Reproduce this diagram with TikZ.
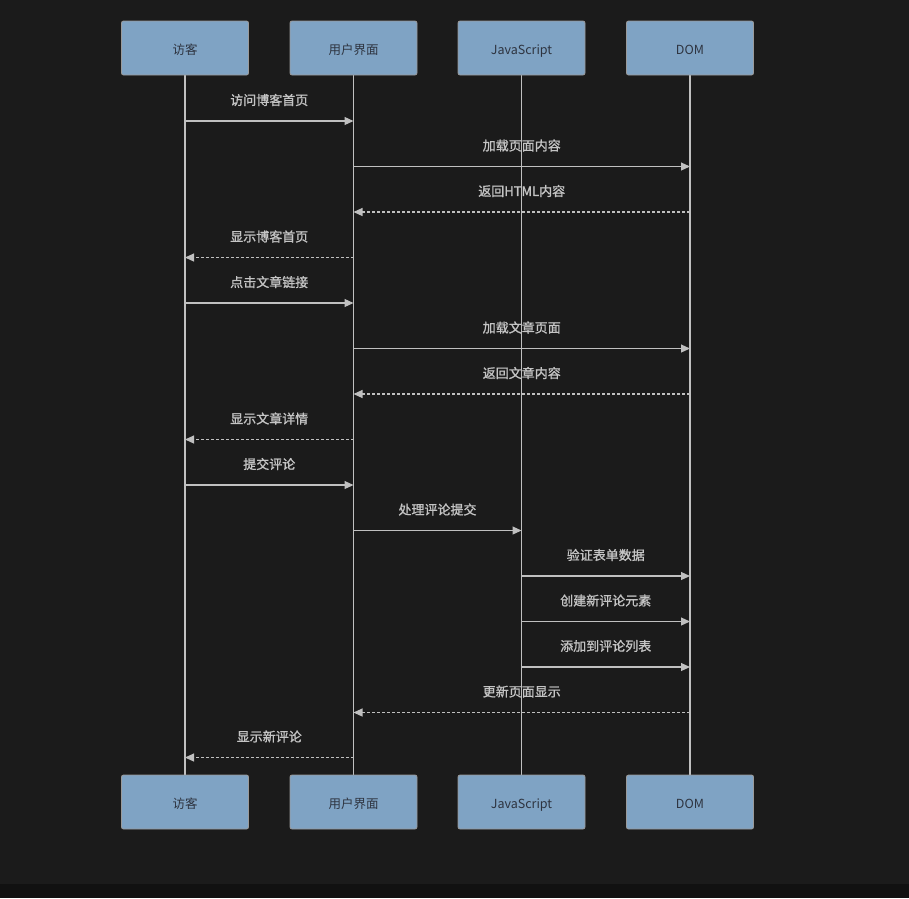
\documentclass[tikz,border=0pt]{standalone}
\usepackage{fontspec}
\setmainfont{Noto Sans CJK SC}
\newfontfamily\cjkb{Noto Sans CJK SC}[FakeBold=1.2]
\usetikzlibrary{arrows.meta,calc}
\definecolor{bgc}{HTML}{1B1B1B}
\definecolor{stripc}{HTML}{111111}
\definecolor{boxc}{HTML}{7FA3C4}
\definecolor{boxline}{HTML}{9A9A9A}
\definecolor{boxtext}{HTML}{2E3440}
\definecolor{linec}{HTML}{C0C0C0}
\definecolor{labc}{HTML}{C4C4C4}
\tikzset{
  actor/.style={draw=boxline, line width=0.8pt, fill=boxc, rounded corners=2pt,
    minimum width=127pt, minimum height=54pt, inner sep=0pt,
    text height=13pt, text depth=0pt,
    font=\fontsize{12.5}{14}\selectfont, text=boxtext},
  life/.style={draw=linec, line width=1.1pt},
  msg/.style={draw=linec, line width=1.1pt, -{Triangle[length=9pt,width=8pt]}},
  ret/.style={msg, dash pattern=on 3pt off 2pt},
  lab/.style={font=\fontsize{13}{15}\selectfont, text=labc, inner sep=0pt}
}
\begin{document}
\begin{tikzpicture}[x=1pt,y=-1pt]
\fill[bgc] (0,0) rectangle (909,898);
\fill[stripc] (0,884) rectangle (909,898);
\useasboundingbox (0,0) rectangle (909,898);
\foreach \n/\x in {a/185,b/353.5,c/521.5,d/690}{
  \coordinate (\n top) at (\x,75);
  \coordinate (\n bot) at (\x,775);
}
\draw[life] (atop) -- (abot);
\draw[life] (btop) -- (bbot);
\draw[life] (ctop) -- (cbot);
\draw[life] (dtop) -- (dbot);
\node[actor] (A1) at (185,48) {访客};
\node[actor] (B1) at (353.5,48) {用户界面};
\node[actor] (C1) at (521.5,48) {JavaScript};
\node[actor] (D1) at (690,48) {DOM};
\node[actor] (A2) at (185,802) {访客};
\node[actor] (B2) at (353.5,802) {用户界面};
\node[actor] (C2) at (521.5,802) {JavaScript};
\node[actor] (D2) at (690,802) {DOM};
\def\ax{185}\def\bx{353.5}\def\cx{521.5}\def\dx{690}
\foreach \f/\t/\y/\s/\l [count=\i] in {
 \ax/\bx/121/msg/访问博客首页,
 \bx/\dx/166.5/msg/加载页面内容,
 \dx/\bx/212/ret/返回HTML内容,
 \bx/\ax/257.5/ret/显示博客首页,
 \ax/\bx/303/msg/点击文章链接,
 \bx/\dx/348.5/msg/加载文章页面,
 \dx/\bx/394/ret/返回文章内容,
 \bx/\ax/439.5/ret/显示文章详情,
 \ax/\bx/485/msg/提交评论,
 \bx/\cx/530.5/msg/处理评论提交,
 \cx/\dx/576/msg/验证表单数据,
 \cx/\dx/621.5/msg/创建新评论元素,
 \cx/\dx/667/msg/添加到评论列表,
 \dx/\bx/712.5/ret/更新页面显示,
 \bx/\ax/757.5/ret/显示新评论}{
  \coordinate (s\i) at (\f,\y);
  \coordinate (e\i) at (\t,\y);
  \draw[\s] (s\i) -- (e\i);
  \node[lab] (l\i) at ($(s\i)!0.5!(e\i)+(0,-21)$) {\cjkb \l};
}
\end{tikzpicture}
\end{document}
